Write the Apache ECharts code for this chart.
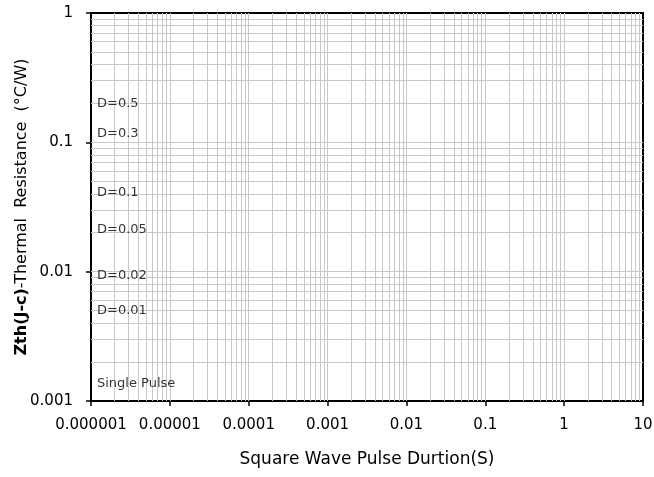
<!DOCTYPE html>
<html>
<head>
<meta charset="utf-8">
<script src="https://cdn.jsdelivr.net/npm/echarts@6/dist/echarts.min.js"></script>
<style>
    html, body { margin: 0; padding: 0; background: #fff; }
    #main { width: 654px; height: 477px; }
</style>
</head>
<body>
<div id="main"></div>
<script>
    // log-log transient thermal impedance grid (no curves in the source)
    var xTickLabels = ['0.000001', '0.00001', '0.0001', '0.001', '0.01', '0.1', '1', '10'];
    var yTickLabels = ['0.001', '0.01', '0.1', '1'];
    var dutyLabels = ['D=0.5', 'D=0.3', 'D=0.1', 'D=0.05', 'D=0.02', 'D=0.01', 'Single Pulse'];
    var dutyLabelY = [0.2, 0.117, 0.041, 0.021, 0.0094, 0.005, 0.00137];
    var dutyLabelX = 1e-6;

    var xMin = 1e-6, xMax = 10, yMin = 0.001, yMax = 1;
    var gridColor = '#c8c8c8';
    var font = 'DejaVu Sans';

    // minor + major grid lines at 1..9 x 10^k, edges left to the axis lines
    var decadeLines = function (min, max) {
        var list = [];
        for (var p = Math.round(Math.log10(min)); p < Math.round(Math.log10(max)); p++) {
            for (var m = 1; m <= 9; m++) {
                var v = m * Math.pow(10, p);
                if (v > min * 1.0001 && v < max * 0.9999) list.push(v);
            }
        }
        return list;
    };

    var lines = [];
    decadeLines(xMin, xMax).forEach(function (v) { lines.push({ xAxis: v }); });
    decadeLines(yMin, yMax).forEach(function (v) { lines.push({ yAxis: v }); });

    var chart = echarts.init(document.getElementById('main'));
    chart.setOption({
        animation: false,
        backgroundColor: '#fff',
        grid: {
            left: 91, right: 11, top: 13, bottom: 76,
            outerBoundsMode: 'none',
            containLabel: false,
            show: true, borderColor: '#000', borderWidth: 2, backgroundColor: 'transparent'
        },
        xAxis: {
            type: 'log',
            logBase: 10,
            min: xMin,
            max: xMax,
            name: 'Square Wave Pulse Durtion(S)',
            nameLocation: 'middle',
            nameGap: 50,
            nameMoveOverlap: false,
            nameTextStyle: { fontFamily: font, fontSize: 17, color: '#000' },
            axisLine: { onZero: false, lineStyle: { color: '#000', width: 2 } },
            axisTick: { show: true, inside: false, length: 5, lineStyle: { color: '#000', width: 1.5 } },
            minorTick: { show: false },
            splitLine: { show: false },
            axisLabel: {
                margin: 17,
                fontFamily: font, fontSize: 15, color: '#000',
                formatter: function (v) {
                    return xTickLabels[Math.round(Math.log10(v)) + 6];
                }
            }
        },
        yAxis: {
            type: 'log',
            logBase: 10,
            min: yMin,
            max: yMax,
            name: '{b|Zth(J-c)}-Thermal  Resistance  (°C/W)',
            nameLocation: 'middle',
            nameGap: 61,
            nameMoveOverlap: false,
            nameTextStyle: {
                fontFamily: font, fontSize: 16, color: '#000',
                rich: { b: { fontFamily: font, fontSize: 16, fontWeight: 'bold', color: '#000' } }
            },
            axisLine: { onZero: false, lineStyle: { color: '#000', width: 2 } },
            axisTick: { show: true, inside: false, length: 5, lineStyle: { color: '#000', width: 1.5 } },
            minorTick: { show: false },
            splitLine: { show: false },
            axisLabel: {
                margin: 18,
                fontFamily: font, fontSize: 15, color: '#000',
                formatter: function (v) {
                    return yTickLabels[Math.round(Math.log10(v)) + 3];
                }
            }
        },
        series: [
            {
                // grid lines only
                type: 'scatter',
                z: 0,
                silent: true,
                symbolSize: 0,
                data: [],
                markLine: {
                    silent: true,
                    precision: 20,
                    symbol: ['none', 'none'],
                    label: { show: false },
                    emphasis: { disabled: true },
                    lineStyle: { color: gridColor, width: 1, type: 'solid' },
                    data: lines
                }
            },
            {
                type: 'scatter',
                z: 5,
                silent: true,
                symbolSize: 0,
                data: dutyLabels.map(function (name, i) {
                    return { name: name, value: [dutyLabelX, dutyLabelY[i]] };
                }),
                label: {
                    show: true,
                    position: 'right',
                    distance: 6,
                    formatter: '{b}',
                    fontFamily: font, fontSize: 13, color: '#000'
                }
            }
        ]
    });
</script>
</body>
</html>
